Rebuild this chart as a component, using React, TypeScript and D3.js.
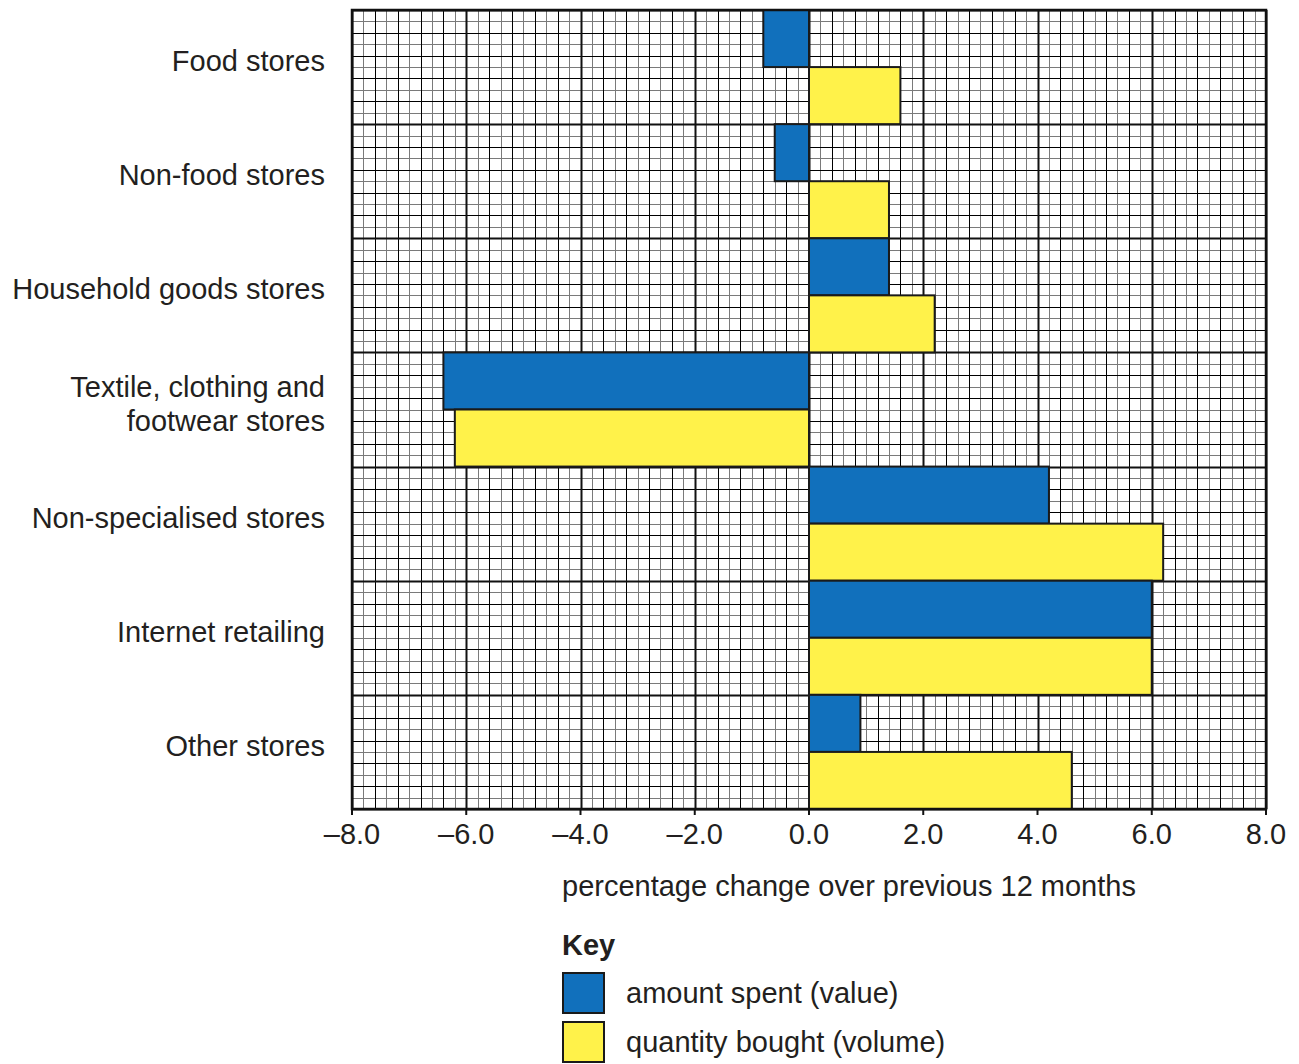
import React from "react";
import * as d3 from "d3";

// categories, top to bottom
const categories = [
  "Food stores",
  "Non-food stores",
  "Household goods stores",
  "Textile, clothing and|footwear stores",
  "Non-specialised stores",
  "Internet retailing",
  "Other stores",
];
// amount spent (value), % change
const valueChange = [-0.8, -0.6, 1.4, -6.4, 4.2, 6.0, 0.9];
// quantity bought (volume), % change
const volumeChange = [1.6, 1.4, 2.2, -6.2, 6.2, 6.0, 4.6];
const ticks = [-8, -6, -4, -2, 0, 2, 4, 6, 8];
const seriesNames = ["amount spent (value)", "quantity bought (volume)"];

const BLUE = "#1170bc";
const YELLOW = "#fff24a";
const INK = "#231f20";
const FONT = "'Liberation Sans', Arial, Helvetica, sans-serif";

const W = 1299;
const H = 1064;
const left = 352;
const right = 1266;
const top = 10;
const bottom = 809;

const App: React.FC = () => {
  const x = d3.scaleLinear().domain([-8, 8]).range([left, right]);
  const y = d3.scaleBand<string>().domain(categories).range([top, bottom]);
  const rowH = y.bandwidth();
  const sub = rowH / 10;
  const px = (v: number) => Math.round(v) + 0.5;

  // fine grid: every 0.2 units, darker at 0.4, heavy at 2.0
  const vLines = d3.range(0, 81).map((i) => ({
    p: x(-8 + i * 0.2),
    major: i % 10 === 0,
    dark: i % 2 === 0,
  }));
  const hLines = d3.range(0, 71).map((i) => ({
    p: top + i * sub,
    major: i % 10 === 0,
    dark: i % 2 === 0,
  }));

  const zeroX = x(0);
  const fmt = (v: number) => (v < 0 ? "\u2013" : "") + Math.abs(v).toFixed(1);

  const gridLine = (l: { p: number }, vertical: boolean, stroke: string, w: number, k: string) =>
    vertical ? (
      <line key={k} x1={px(l.p)} x2={px(l.p)} y1={top} y2={bottom} stroke={stroke} strokeWidth={w} />
    ) : (
      <line key={k} x1={left} x2={right} y1={px(l.p)} y2={px(l.p)} stroke={stroke} strokeWidth={w} />
    );

  return (
    <svg
      width={W}
      height={H}
      style={{ position: "absolute", left: 0, top: 0, background: "#fff" }}
      fontFamily={FONT}
    >
      <rect x={left} y={top} width={right - left} height={bottom - top} fill="#fff" />
      <g>
        {vLines.filter((l) => !l.dark).map((l, i) => gridLine(l, true, "#7a7a7a", 1, "vl" + i))}
        {hLines.filter((l) => !l.dark).map((l, i) => gridLine(l, false, "#7a7a7a", 1, "hl" + i))}
        {vLines.filter((l) => l.dark && !l.major).map((l, i) => gridLine(l, true, "#000", 1, "vd" + i))}
        {hLines.filter((l) => l.dark && !l.major).map((l, i) => gridLine(l, false, "#000", 1, "hd" + i))}
        {vLines.filter((l) => l.major).map((l, i) => gridLine(l, true, "#111", 2, "vm" + i))}
        {hLines.filter((l) => l.major).map((l, i) => gridLine(l, false, "#111", 2, "hm" + i))}
      </g>

      {/* bars */}
      {categories.map((c, i) => {
        const y0 = y(c)!;
        const vv = valueChange[i];
        const qv = volumeChange[i];
        return (
          <g key={c} stroke="#1a1a1a" strokeWidth={2}>
            <rect
              x={Math.min(x(vv), zeroX)}
              y={y0}
              width={Math.abs(x(vv) - zeroX)}
              height={rowH / 2}
              fill={BLUE}
            />
            <rect
              x={Math.min(x(qv), zeroX)}
              y={y0 + rowH / 2}
              width={Math.abs(x(qv) - zeroX)}
              height={rowH / 2}
              fill={YELLOW}
            />
          </g>
        );
      })}

      {/* frame */}
      <rect x={left} y={top} width={right - left} height={bottom - top} fill="none" stroke="#111" strokeWidth={2.5} />

      {/* x axis ticks */}
      {ticks.map((t) => (
        <g key={t}>
          <line x1={x(t)} x2={x(t)} y1={bottom} y2={bottom + 6} stroke="#111" strokeWidth={2} />
          <text
            x={x(t)}
            y={bottom + 25}
            textAnchor="middle"
            dominantBaseline="central"
            fontSize={29}
            fill={INK}
          >
            {fmt(t)}
          </text>
        </g>
      ))}

      {/* category labels */}
      {categories.map((c) => {
        const lines = c.split("|");
        const cy = y(c)! + rowH / 2 - 6;
        const lh = 34;
        return (
          <text key={c} textAnchor="end" fontSize={29} fill={INK}>
            {lines.map((ln, j) => (
              <tspan
                key={j}
                x={325}
                y={cy + (j - (lines.length - 1) / 2) * lh}
                dominantBaseline="central"
              >
                {ln}
              </tspan>
            ))}
          </text>
        );
      })}

      {/* axis title */}
      <text x={562} y={886} dominantBaseline="central" fontSize={29} fill={INK}>
        percentage change over previous 12 months
      </text>

      {/* key */}
      <text x={562} y={945} dominantBaseline="central" fontSize={29} fontWeight="bold" fill={INK}>
        Key
      </text>
      {seriesNames.map((s, i) => (
        <g key={s}>
          <rect
            x={563}
            y={973 + i * 49}
            width={41}
            height={40}
            fill={i === 0 ? BLUE : YELLOW}
            stroke="#1a1a1a"
            strokeWidth={2}
          />
          <text x={626} y={993 + i * 49} dominantBaseline="central" fontSize={29} fill={INK}>
            {s}
          </text>
        </g>
      ))}
    </svg>
  );
};

export default App;
